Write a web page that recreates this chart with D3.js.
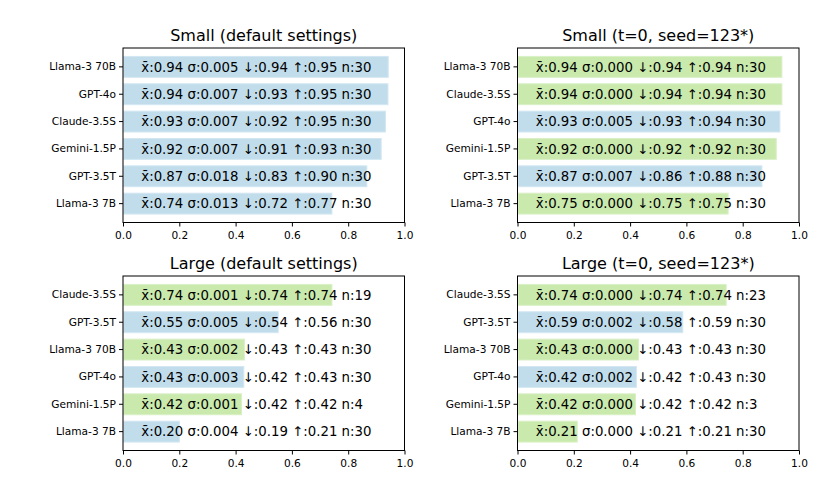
<!DOCTYPE html>
<html lang="en">
<head>
<meta charset="UTF-8">
<title>Model scores</title>
<style>
  body { margin: 0; background: #fff; }
  text { font-family: "DejaVu Sans", sans-serif; }
</style>
</head>
<body>
<script src="https://cdn.jsdelivr.net/npm/d3@7"></script>
<script>
// ---- data ----
const titles = ["Small (default settings)", "Small (t=0, seed=123*)",
                "Large (default settings)", "Large (t=0, seed=123*)"]

const smallDefModels = ["Llama-3 70B", "GPT-4o", "Claude-3.5S", "Gemini-1.5P", "GPT-3.5T", "Llama-3 7B"]
const smallDefMean   = [0.944, 0.943, 0.934, 0.919, 0.868, 0.744]
const smallDefSigma  = ["0.005", "0.007", "0.007", "0.007", "0.018", "0.013"]
const smallDefLow    = ["0.94", "0.93", "0.92", "0.91", "0.83", "0.72"]
const smallDefHigh   = ["0.95", "0.95", "0.95", "0.93", "0.90", "0.77"]
const smallDefN      = [30, 30, 30, 30, 30, 30]
const smallDefFixed  = [false, false, false, false, false, false]

const smallSeedModels = ["Llama-3 70B", "Claude-3.5S", "GPT-4o", "Gemini-1.5P", "GPT-3.5T", "Llama-3 7B"]
const smallSeedMean   = [0.941, 0.941, 0.934, 0.921, 0.870, 0.750]
const smallSeedSigma  = ["0.000", "0.000", "0.005", "0.000", "0.007", "0.000"]
const smallSeedLow    = ["0.94", "0.94", "0.93", "0.92", "0.86", "0.75"]
const smallSeedHigh   = ["0.94", "0.94", "0.94", "0.92", "0.88", "0.75"]
const smallSeedN      = [30, 30, 30, 30, 30, 30]
const smallSeedFixed  = [true, true, false, true, false, true]

const largeDefModels = ["Claude-3.5S", "GPT-3.5T", "Llama-3 70B", "GPT-4o", "Gemini-1.5P", "Llama-3 7B"]
const largeDefMean   = [0.744, 0.553, 0.433, 0.431, 0.423, 0.202]
const largeDefSigma  = ["0.001", "0.005", "0.002", "0.003", "0.001", "0.004"]
const largeDefLow    = ["0.74", "0.54", "0.43", "0.42", "0.42", "0.19"]
const largeDefHigh   = ["0.74", "0.56", "0.43", "0.43", "0.42", "0.21"]
const largeDefN      = [19, 30, 30, 30, 4, 30]
const largeDefFixed  = [true, false, true, false, true, false]

const largeSeedModels = ["Claude-3.5S", "GPT-3.5T", "Llama-3 70B", "GPT-4o", "Gemini-1.5P", "Llama-3 7B"]
const largeSeedMean   = [0.743, 0.589, 0.432, 0.424, 0.421, 0.214]
const largeSeedSigma  = ["0.000", "0.002", "0.000", "0.002", "0.000", "0.000"]
const largeSeedLow    = ["0.74", "0.58", "0.43", "0.42", "0.42", "0.21"]
const largeSeedHigh   = ["0.74", "0.59", "0.43", "0.43", "0.42", "0.21"]
const largeSeedN      = [23, 30, 30, 30, 3, 30]
const largeSeedFixed  = [true, false, true, false, true, true]

const xTicks = [0, 0.2, 0.4, 0.6, 0.8, 1.0]

const panels = [
  [smallDefModels, smallDefMean, smallDefSigma, smallDefLow, smallDefHigh, smallDefN, smallDefFixed],
  [smallSeedModels, smallSeedMean, smallSeedSigma, smallSeedLow, smallSeedHigh, smallSeedN, smallSeedFixed],
  [largeDefModels, largeDefMean, largeDefSigma, largeDefLow, largeDefHigh, largeDefN, largeDefFixed],
  [largeSeedModels, largeSeedMean, largeSeedSigma, largeSeedLow, largeSeedHigh, largeSeedN, largeSeedFixed]
]

// ---- layout ----
const width = 822, height = 484
const colX = [123, 517.5], rowY = [48, 276]
const w = 281.5, h = 174.5
const blueFill = "#c1ddeb", blueEdge = "#d3e7f2"
const greenFill = "#c9e9ad", greenEdge = "#d9f0c6"

const svg = d3.select("body").append("svg")
  .attr("width", width)
  .attr("height", height)

panels.forEach((p, k) => {
  const [models, mean, sigma, low, high, count, fixed] = p
  const g = svg.append("g")
    .attr("transform", `translate(${colX[k % 2]},${rowY[Math.floor(k / 2)]})`)

  const x = d3.scaleLinear().domain([0, 1]).range([0, w])
  const y = d3.scaleBand().domain(models).range([0, h])
    .paddingInner(0.2).paddingOuter(0.29)

  g.selectAll("rect.bar").data(models).join("rect")
    .attr("class", "bar")
    .attr("x", x(0) + 0.5)
    .attr("y", d => y(d) + 0.5)
    .attr("width", (d, i) => x(mean[i]) - x(0) - 1)
    .attr("height", y.bandwidth() - 1)
    .attr("fill", (d, i) => fixed[i] ? greenFill : blueFill)
    .attr("stroke", (d, i) => fixed[i] ? greenEdge : blueEdge)
    .attr("stroke-width", 1)

  g.selectAll("text.ann").data(models).join("text")
    .attr("class", "ann")
    .attr("x", x(0.065))
    .attr("y", d => y(d) + y.bandwidth() / 2)
    .attr("dy", "0.36em")
    .attr("font-size", 13.3)
    .attr("fill", "#000")
    .text((d, i) => `x\u0304:${mean[i].toFixed(2)} \u03c3:${sigma[i]} \u2193:${low[i]} \u2191:${high[i]} n:${count[i]}`)

  // frame
  g.append("rect")
    .attr("width", w).attr("height", h)
    .attr("fill", "none").attr("stroke", "#000").attr("stroke-width", 1)

  const yAxis = g.append("g").call(d3.axisLeft(y).tickSize(4).tickPadding(3))
  yAxis.select(".domain").remove()
  yAxis.selectAll("text").attr("font-size", 10.6).attr("font-family", "DejaVu Sans")

  const xAxis = g.append("g").attr("transform", `translate(0,${h})`)
    .call(d3.axisBottom(x).tickValues(xTicks).tickFormat(d3.format(".1f")).tickSize(4).tickPadding(5))
  xAxis.select(".domain").remove()
  xAxis.selectAll("text").attr("font-size", 10.6).attr("font-family", "DejaVu Sans")

  g.append("text")
    .attr("x", w / 2)
    .attr("y", -7)
    .attr("text-anchor", "middle")
    .attr("font-size", 16)
    .text(titles[k])
})
</script>
</body>
</html>
